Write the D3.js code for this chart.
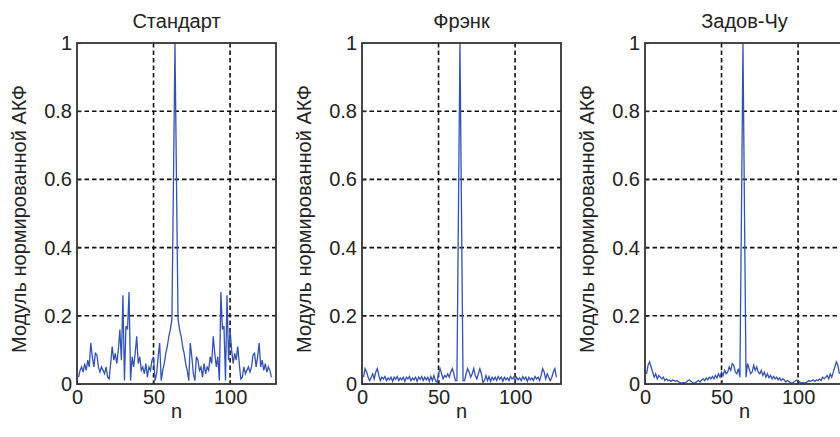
<!DOCTYPE html>
<html>
<head>
<meta charset="utf-8">
<script src="https://cdn.jsdelivr.net/npm/d3@7"></script>
<style>
  body { margin: 0; background: #fff; }
  svg text { font-family: "Liberation Sans", Arial, sans-serif; fill: #222; }
</style>
</head>
<body>
<svg id="chart" width="840" height="437"></svg>
<script>
// Lag index of the autocorrelation function (127 lags, zero shift at n = 64)
const lags = d3.range(1, 128);

// |normalised ACF| of the standard code
const standardAcf = [
  0.02, 0.04, 0.05, 0.035, 0.06, 0.04, 0.07, 0.05, 0.12, 0.08,
  0.05, 0.09, 0.085, 0.05, 0.035, 0.05, 0.04, 0.03, 0.05, 0.02,
  0.015, 0.06, 0.11, 0.07, 0.09, 0.06, 0.10, 0.16, 0.07, 0.26,
  0.01, 0.17, 0.16, 0.27, 0.01, 0.08, 0.05, 0.09, 0.14, 0.06,
  0.08, 0.04, 0.05, 0.03, 0.06, 0.02, 0.05, 0.04, 0.07, 0.08,
  0.01, 0.03, 0.08, 0.12, 0.01, 0.04, 0.06, 0.09, 0.11, 0.14,
  0.16, 0.19, 0.59, 1.00, 0.59, 0.19, 0.16, 0.14, 0.11, 0.09,
  0.06, 0.04, 0.01, 0.12, 0.08, 0.03, 0.01, 0.08, 0.07, 0.04,
  0.05, 0.02, 0.06, 0.03, 0.05, 0.04, 0.08, 0.06, 0.14, 0.09,
  0.05, 0.08, 0.01, 0.27, 0.16, 0.17, 0.01, 0.26, 0.07, 0.16,
  0.10, 0.06, 0.09, 0.07, 0.11, 0.06, 0.015, 0.02, 0.05, 0.03,
  0.04, 0.05, 0.035, 0.05, 0.085, 0.09, 0.05, 0.08, 0.12, 0.05,
  0.07, 0.04, 0.06, 0.035, 0.05, 0.04, 0.02
];

// |normalised ACF| of the Frank code
const frankAcf = [
  0.02, 0.045, 0.035, 0.02, 0.01, 0.02, 0.03, 0.015, 0.035, 0.045,
  0.025, 0.01, 0.02, 0.015, 0.022, 0.01, 0.018, 0.012, 0.02, 0.008,
  0.02, 0.014, 0.022, 0.01, 0.018, 0.012, 0.02, 0.008, 0.02, 0.015,
  0.022, 0.01, 0.018, 0.012, 0.02, 0.008, 0.02, 0.014, 0.022, 0.01,
  0.02, 0.012, 0.02, 0.008, 0.022, 0.01, 0.025, 0.01, 0.005, 0.03,
  0.045, 0.03, 0.015, 0.025, 0.02, 0.03, 0.02, 0.035, 0.045, 0.03,
  0.01, 0.01, 0.50, 1.00, 0.50, 0.01, 0.01, 0.03, 0.045, 0.035,
  0.02, 0.03, 0.045, 0.025, 0.015, 0.03, 0.045, 0.03, 0.005, 0.01,
  0.025, 0.01, 0.022, 0.008, 0.02, 0.012, 0.02, 0.01, 0.022, 0.014,
  0.02, 0.008, 0.02, 0.012, 0.018, 0.01, 0.022, 0.015, 0.02, 0.008,
  0.02, 0.012, 0.018, 0.01, 0.022, 0.014, 0.02, 0.008, 0.02, 0.012,
  0.018, 0.01, 0.022, 0.015, 0.02, 0.01, 0.025, 0.045, 0.035, 0.015,
  0.03, 0.02, 0.01, 0.02, 0.035, 0.045, 0.02
];

// |normalised ACF| of the Zadoff-Chu code
const zadoffChuAcf = [
  0.03, 0.055, 0.065, 0.05, 0.035, 0.02, 0.03, 0.015, 0.025, 0.02,
  0.015, 0.02, 0.01, 0.015, 0.01, 0.012, 0.008, 0.012, 0.01, 0.008,
  0.01, 0.006, 0.004, 0.003, 0.004, 0.003, 0.006, 0.01, 0.012, 0.008,
  0.005, 0.002, 0.004, 0.008, 0.01, 0.006, 0.012, 0.015, 0.01, 0.018,
  0.012, 0.02, 0.015, 0.022, 0.015, 0.025, 0.018, 0.03, 0.02, 0.035,
  0.025, 0.04, 0.03, 0.035, 0.05, 0.04, 0.06, 0.055, 0.035, 0.03,
  0.045, 0.02, 0.50, 1.00, 0.50, 0.02, 0.06, 0.045, 0.03, 0.035,
  0.055, 0.04, 0.05, 0.035, 0.03, 0.04, 0.025, 0.035, 0.02, 0.03,
  0.018, 0.025, 0.015, 0.022, 0.015, 0.02, 0.012, 0.018, 0.01, 0.015,
  0.012, 0.006, 0.01, 0.008, 0.004, 0.002, 0.005, 0.008, 0.012, 0.01,
  0.006, 0.003, 0.004, 0.003, 0.004, 0.006, 0.01, 0.008, 0.01, 0.012,
  0.008, 0.012, 0.01, 0.015, 0.01, 0.02, 0.015, 0.02, 0.025, 0.015,
  0.03, 0.02, 0.035, 0.05, 0.065, 0.055, 0.03
];

const panelTitles = ["Стандарт", "Фрэнк", "Задов-Чу"];
const panelSeries = [standardAcf, frankAcf, zadoffChuAcf];
const xTicks = [0, 50, 100];
const yTicks = [0, 0.2, 0.4, 0.6, 0.8, 1];
const xLabel = "n";
const yLabel = "Модуль нормированной АКФ";

// Layout of the three axes boxes
const panelLefts = [77, 362, 645];
const plotW = 199, plotTop = 43, plotH = 341;
const fontSize = 20;

const svg = d3.select("#chart");

panelSeries.forEach((values, i) => {
  const left = panelLefts[i];
  const x = d3.scaleLinear().domain([0, 130]).range([0, plotW]);
  const y = d3.scaleLinear().domain([0, 1]).range([plotH, 0]);

  const g = svg.append("g").attr("transform", `translate(${left},${plotTop})`);

  // Dotted grid
  const grid = g.append("g").attr("class", "grid");
  grid.selectAll("line.gx").data(xTicks.filter(t => t > 0))
    .join("line").attr("class", "gx")
    .attr("x1", d => x(d)).attr("x2", d => x(d))
    .attr("y1", 0).attr("y2", plotH);
  grid.selectAll("line.gy").data(yTicks.filter(t => t > 0 && t < 1))
    .join("line").attr("class", "gy")
    .attr("x1", 0).attr("x2", plotW)
    .attr("y1", d => y(d)).attr("y2", d => y(d));
  grid.selectAll("line")
    .attr("stroke", "#111").attr("stroke-width", 1.6)
    .attr("stroke-dasharray", "4.5,3");

  // Data curve
  const line = d3.line().x((d, k) => x(lags[k])).y(d => y(d));
  g.append("path").datum(values)
    .attr("d", line)
    .attr("fill", "none")
    .attr("stroke", "#3352b3")
    .attr("stroke-width", 1.3)
    .attr("stroke-linejoin", "miter");

  // Axes with inward ticks
  const xAxis = d3.axisBottom(x).tickValues(xTicks).tickSize(-4).tickPadding(6)
    .tickFormat(d3.format("~g"));
  const yAxis = d3.axisLeft(y).tickValues(yTicks).tickSize(-4).tickPadding(5)
    .tickFormat(d3.format("~g"));
  const gx = g.append("g").attr("transform", `translate(0,${plotH})`).call(xAxis);
  const gy = g.append("g").call(yAxis);
  [gx, gy].forEach(a => {
    a.select(".domain").remove();
    a.selectAll(".tick line").attr("stroke", "#333");
    a.selectAll(".tick text").attr("font-size", fontSize)
      .attr("font-family", "Liberation Sans, Arial, sans-serif").attr("fill", "#222");
  });

  // Box
  g.append("rect").attr("width", plotW).attr("height", plotH)
    .attr("fill", "none").attr("stroke", "#333").attr("stroke-width", 1.8);

  // Title and labels
  g.append("text").attr("x", plotW / 2).attr("y", 28 - plotTop)
    .attr("text-anchor", "middle").attr("font-size", fontSize)
    .text(panelTitles[i]);
  g.append("text").attr("x", plotW / 2).attr("y", 418 - plotTop)
    .attr("text-anchor", "middle").attr("font-size", fontSize)
    .text(xLabel);
  g.append("text")
    .attr("transform", `translate(-51,${219 - plotTop}) rotate(-90)`)
    .attr("text-anchor", "middle").attr("font-size", fontSize)
    .text(yLabel);
});
</script>
</body>
</html>
